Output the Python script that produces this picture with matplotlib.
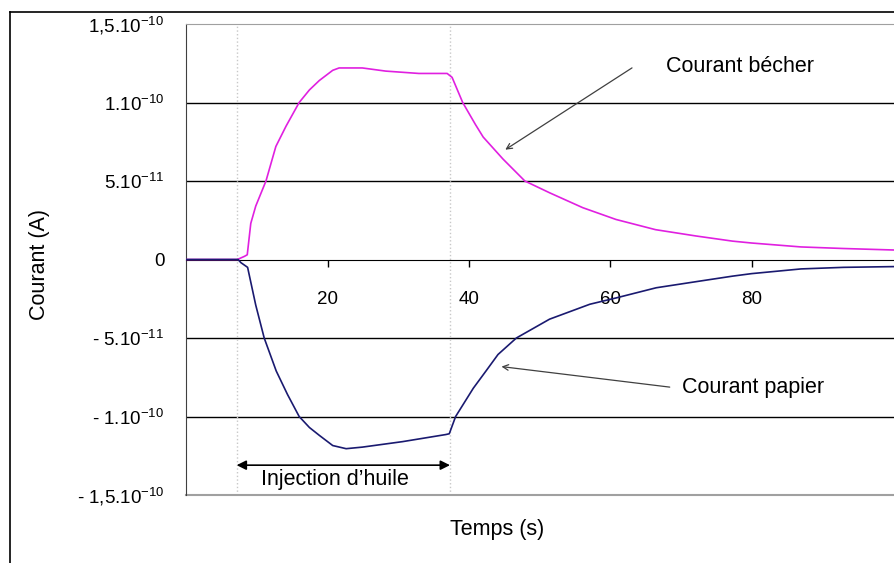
import numpy as np
import matplotlib
matplotlib.use("Agg")
import matplotlib.pyplot as plt
from matplotlib.lines import Line2D

plt.rcParams["font.family"] = ["Liberation Sans", "DejaVu Sans"]
plt.rcParams["mathtext.default"] = "regular"
plt.rcParams["axes.unicode_minus"] = False

# current in units of 1e-11 A, time in s
t_becher = [0, 7.2, 8.2, 8.6, 9.1, 9.8, 11.25, 12.65, 14.1, 15.95, 17.4, 18.8, 20.7, 21.6, 24.9,
            28.2, 32.9, 36.9, 37.6, 39.1, 40.9, 42.0, 44.8, 47.9, 51.4, 56.1, 60.8, 66.4, 72.1,
            77.3, 80, 87, 93, 100.5]
i_becher = [0, 0, 0.2, 0.3, 2.3, 3.4, 5.0, 7.2, 8.5, 10.0, 10.8, 11.4, 12.05, 12.2, 12.2,
            12.0, 11.85, 11.85, 11.6, 10.0, 8.6, 7.8, 6.4, 5.0, 4.25, 3.3, 2.55, 1.9, 1.5,
            1.17, 1.05, 0.8, 0.7, 0.6]

t_papier = [0, 7.3, 7.7, 8.65, 9.8, 11.0, 12.7, 14.3, 15.95, 17.4, 18.8, 20.7, 22.6, 24.9, 30.6,
            36.7, 37.2, 38.1, 40.6, 42.4, 44.1, 46.7, 51.4, 57.1, 60.8, 66.5, 72.6, 77.3, 80,
            87, 93, 100.5]
i_papier = [0, 0, -0.2, -0.5, -2.9, -5.0, -7.1, -8.6, -10.0, -10.7, -11.2, -11.85, -12.05, -11.95, -11.6,
            -11.15, -11.1, -10.0, -8.2, -7.1, -6.05, -5.0, -3.8, -2.85, -2.45, -1.8, -1.38, -1.06, -0.9,
            -0.6, -0.5, -0.45]

yticks = [-15, -10, -5, 0, 5, 10, 15]
ytick_labels = ["- 1,5.10$^{-10}$", "- 1.10$^{-10}$", "- 5.10$^{-11}$", "0",
                "5.10$^{-11}$", "1.10$^{-10}$", "1,5.10$^{-10}$"]
xticks = [20, 40, 60, 80]
injection = [7.1, 37.3]

fig = plt.figure(figsize=(8.95, 5.63), dpi=100)
ax = fig.add_axes([186.5 / 895, 1 - 495 / 563, 1 - 186.5 / 895, 471 / 563])

for y in [-10, -5, 5, 10]:
    ax.axhline(y, color="black", lw=1, zorder=1)
for x in injection:
    ax.axvline(x, color="#c8c8c8", lw=1, ls=":", zorder=1)

ax.plot(t_becher, i_becher, color="#e020e0", lw=1.2, zorder=3)
ax.plot(t_papier, i_papier, color="#1a1a70", lw=1.2, zorder=3)

ax.set_xlim(0, 100.3)
ax.set_ylim(-15, 15)

ax.spines["bottom"].set_position(("data", 0))
ax.spines["bottom"].set_color("black")
ax.spines["top"].set_color("#a0a0a0")
ax.spines["right"].set_visible(False)
ax.spines["left"].set_color("#404040")
ax.axhline(-15, color="#a0a0a0", lw=1.5, clip_on=False)

ax.set_xticks(xticks)
ax.set_xticklabels([str(v) for v in xticks], fontsize=13.5)
ax.tick_params(axis="x", direction="out", length=5, width=1, pad=18)
ax.set_yticks(yticks)
ax.set_yticklabels(ytick_labels, fontsize=13.5)
ax.tick_params(axis="y", length=0, pad=16)

ax.set_ylabel("Courant (A)", fontsize=15.5)
ax.yaxis.set_label_coords(-0.192, 0.49)
ax.text(0.438, -0.074, "Temps (s)", transform=ax.transAxes, ha="center", va="center", fontsize=15.5)

arrow_kw = dict(arrowstyle="->", color="#404040", lw=0.9)
ax.annotate("", xy=(44.8, 6.9), xytext=(63.4, 12.3), arrowprops=arrow_kw)
ax.text(67.9, 12.3, "Courant bécher", fontsize=15.5, va="center", ha="left")
ax.annotate("", xy=(44.2, -6.8), xytext=(68.8, -8.15), arrowprops=arrow_kw)
ax.text(70.2, -8.15, "Courant papier", fontsize=15.5, va="center", ha="left")

ax.annotate("", xy=(injection[0], -13.1), xytext=(injection[1], -13.1),
            arrowprops=dict(arrowstyle="<|-|>", color="black", lw=1.2, mutation_scale=14,
                            shrinkA=0, shrinkB=0))
ax.text(21.0, -14.0, "Injection d\u2019huile", fontsize=15.5, ha="center", va="center")

# outer frame
fig.add_artist(Line2D([10 / 895, 10 / 895], [0, 1 - 12 / 563], transform=fig.transFigure, color="black", lw=1.2))
fig.add_artist(Line2D([10 / 895, 1], [1 - 12 / 563, 1 - 12 / 563], transform=fig.transFigure, color="black", lw=1.2))

fig.savefig("out.png", dpi=100)
